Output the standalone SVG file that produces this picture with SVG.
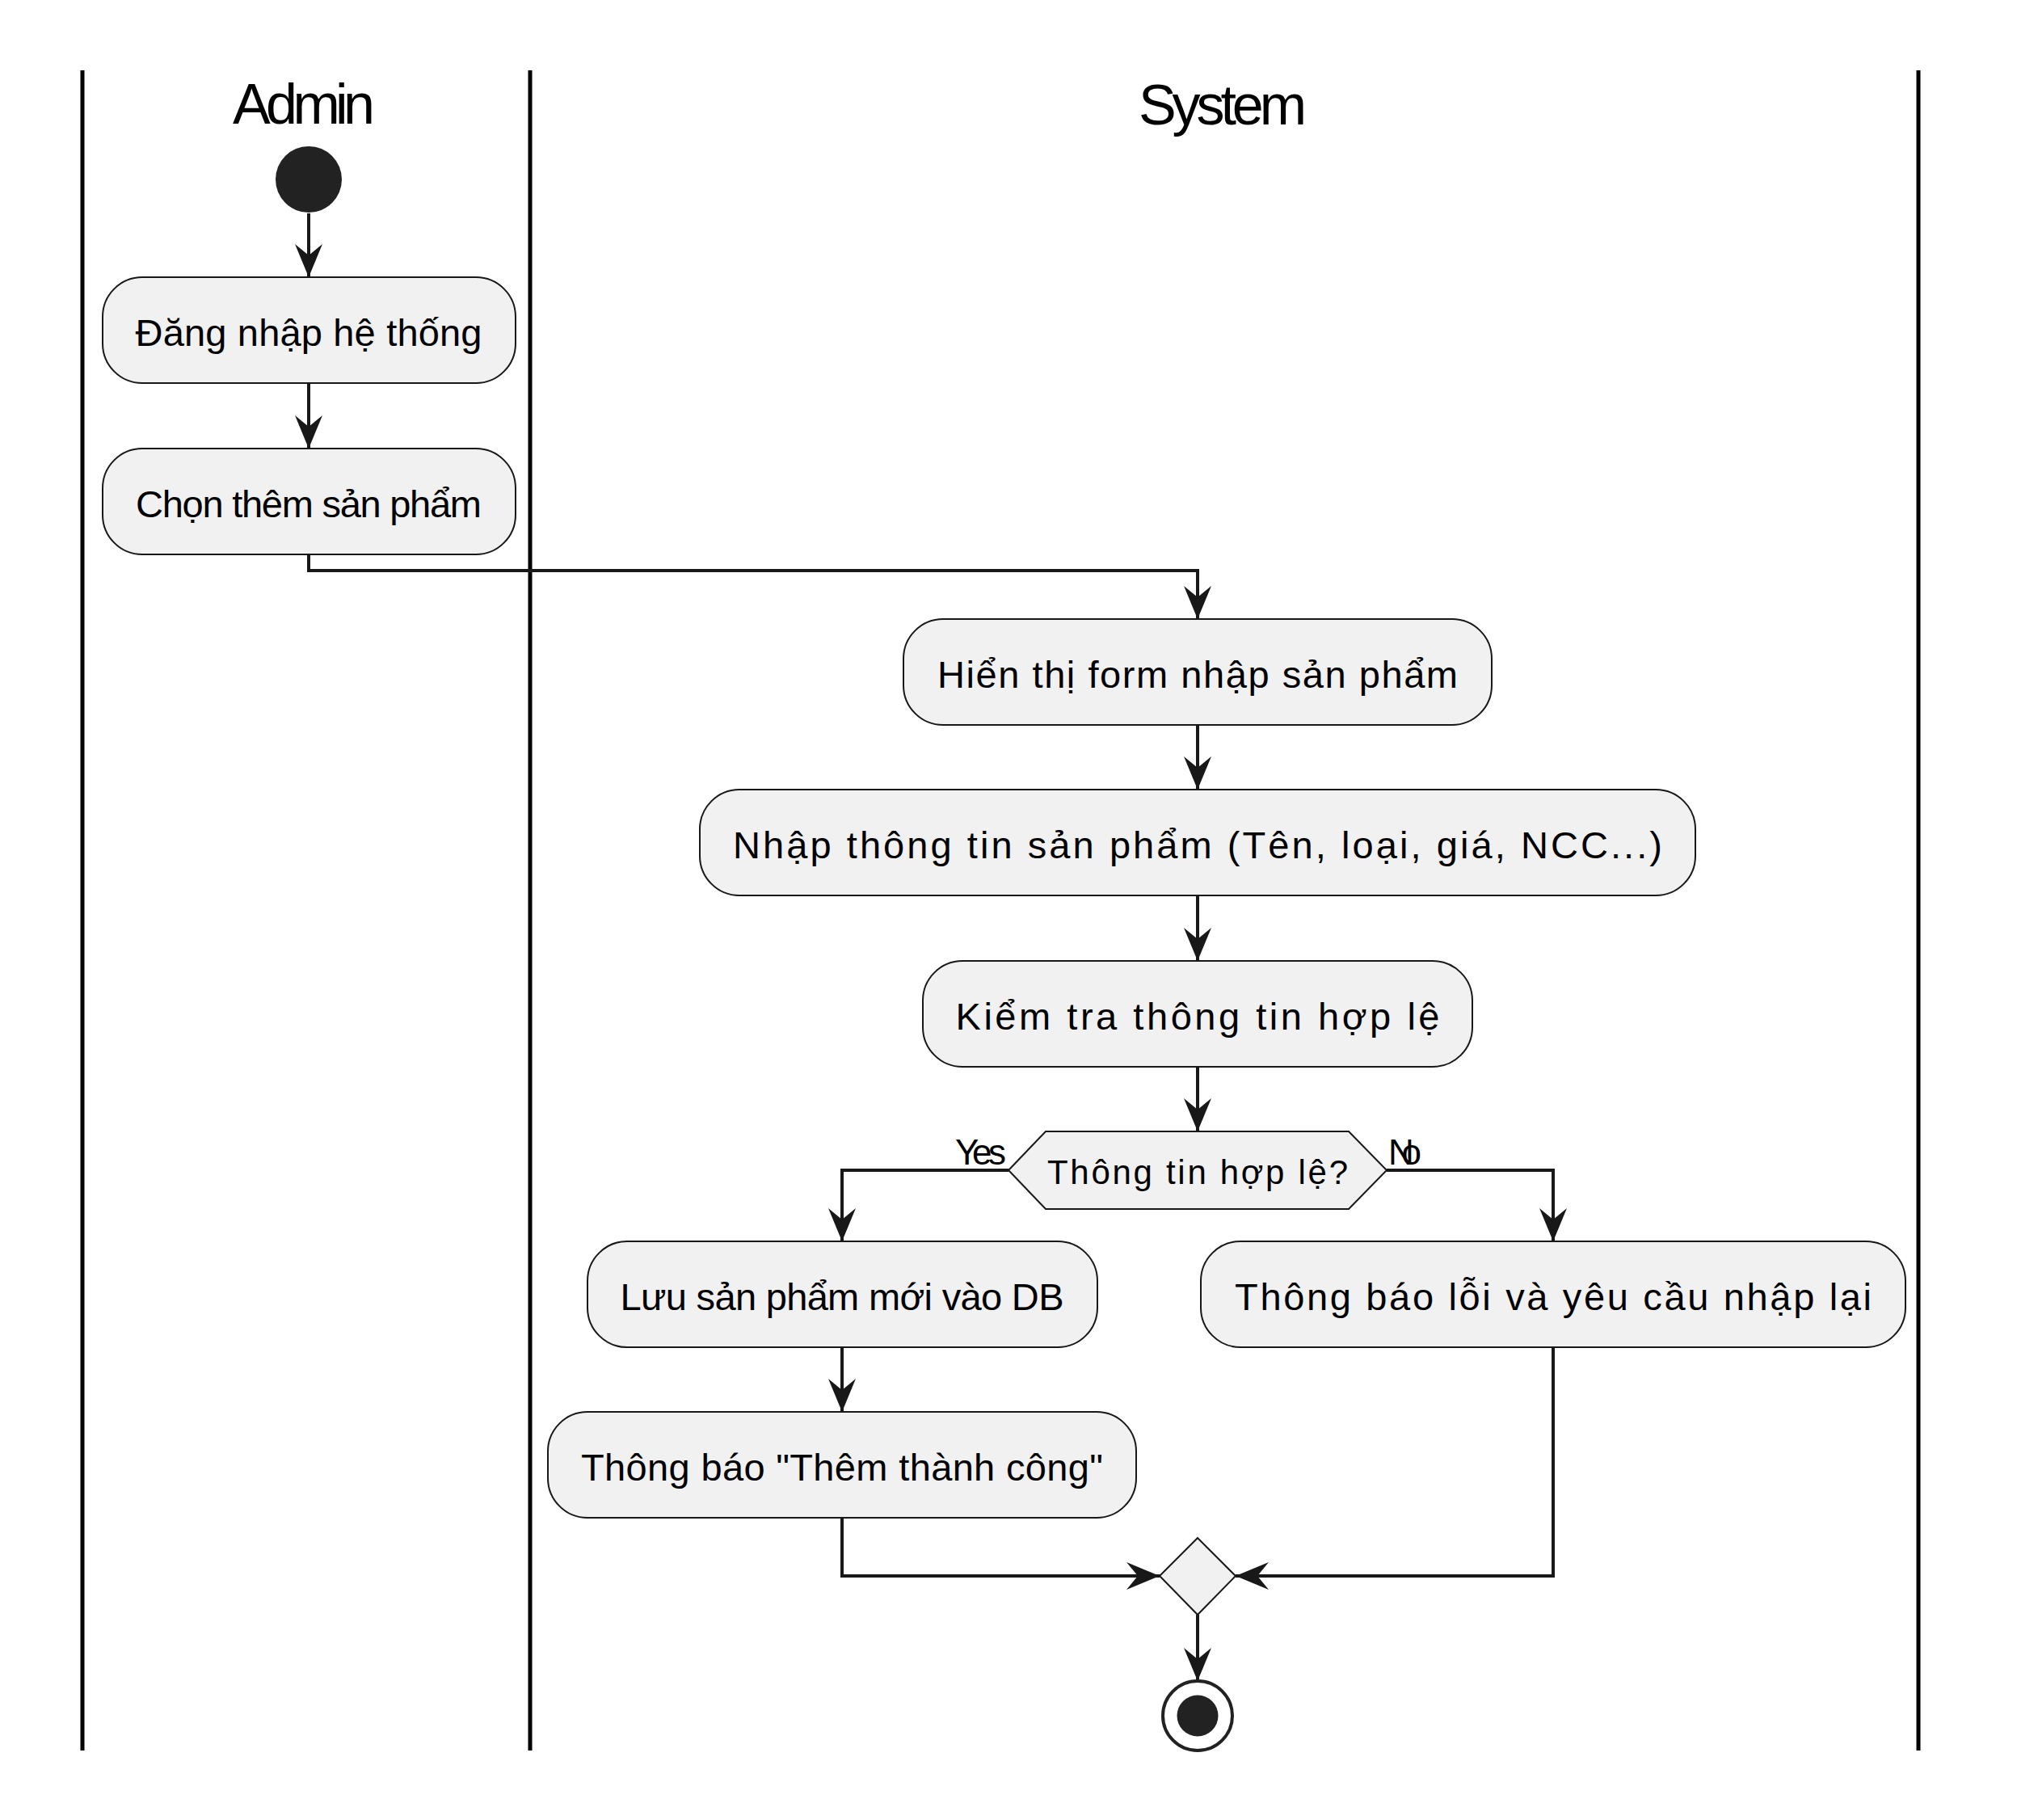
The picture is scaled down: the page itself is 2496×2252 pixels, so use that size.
<svg xmlns="http://www.w3.org/2000/svg" width="2496" height="2252" viewBox="0 0 2496 2252">
<style>
  .lane { stroke: #000000; stroke-width: 5; fill: none; }
  .title { font-family: "Liberation Sans", Arial, sans-serif; font-size: 70px; fill: #000000; text-anchor: middle; }
  .box { fill: #F1F1F1; stroke: #181818; stroke-width: 2; }
  .txt { font-family: "Liberation Sans", Arial, sans-serif; font-size: 47px; fill: #000000; text-anchor: middle; }
  .dtxt { font-family: "Liberation Sans", Arial, sans-serif; font-size: 42px; fill: #000000; text-anchor: middle; }
  .lbl { font-family: "Liberation Sans", Arial, sans-serif; font-size: 44px; fill: #000000; }
  .edge { stroke: #181818; stroke-width: 4; fill: none; marker-end: url(#ah); }
  .edgeplain { stroke: #181818; stroke-width: 4; fill: none; }
</style>
<defs>
  <marker id="ah" markerUnits="userSpaceOnUse" markerWidth="46" markerHeight="40" viewBox="-44 -20 46 40" refX="0" refY="0" orient="auto">
    <path d="M0,0 L-41,-17 L-27,0 L-41,17 Z" fill="#181818"/>
  </marker>
</defs>
<rect x="0" y="0" width="2496" height="2252" fill="#FFFFFF"/>

<g id="lanes">
  <line class="lane" x1="102" y1="87" x2="102" y2="2166"/>
  <line class="lane" x1="656" y1="87" x2="656" y2="2166"/>
  <line class="lane" x1="2374" y1="87" x2="2374" y2="2166"/>
  <text class="title" x="376" y="153" textLength="176" lengthAdjust="spacing">Admin</text>
  <text class="title" x="1513" y="154" textLength="208" lengthAdjust="spacing">System</text>
</g>

<g id="connectors">
  <path class="edge" d="M382,264 V343"/>
  <path class="edge" d="M382,474 V555"/>
  <path class="edge" d="M382,686 V706 H1482 V766"/>
  <path class="edge" d="M1482,897 V977"/>
  <path class="edge" d="M1482,1108 V1189"/>
  <path class="edge" d="M1482,1320 V1400"/>
  <path class="edge" d="M1248,1448 H1042 V1536"/>
  <path class="edge" d="M1716,1448 H1922 V1536"/>
  <path class="edge" d="M1042,1667 V1747"/>
  <path class="edge" d="M1042,1878 V1950 H1435"/>
  <path class="edge" d="M1922,1667 V1950 H1529"/>
  <path class="edge" d="M1482,1998 V2080"/>
  <text class="lbl" x="1182" y="1441" textLength="63" lengthAdjust="spacing">Yes</text>
  <text class="lbl" x="1718" y="1441" textLength="41" lengthAdjust="spacing">No</text>
</g>

<g id="start">
  <circle cx="382" cy="222" r="41" fill="#222222"/>
</g>

<g id="a1">
  <rect class="box" x="127" y="343" width="511" height="131" rx="49" ry="49"/>
  <text class="txt" x="382" y="428" textLength="429" lengthAdjust="spacing">Đăng nhập hệ thống</text>
</g>

<g id="a2">
  <rect class="box" x="127" y="555" width="511" height="131" rx="49" ry="49"/>
  <text class="txt" x="382" y="640" textLength="428" lengthAdjust="spacing">Chọn thêm sản phẩm</text>
</g>

<g id="a3">
  <rect class="box" x="1118" y="766" width="728" height="131" rx="49" ry="49"/>
  <text class="txt" x="1482" y="851" textLength="644" lengthAdjust="spacing">Hiển thị form nhập sản phẩm</text>
</g>

<g id="a4">
  <rect class="box" x="866" y="977" width="1232" height="131" rx="49" ry="49"/>
  <text class="txt" x="1482" y="1062" textLength="1150" lengthAdjust="spacing">Nhập thông tin sản phẩm (Tên, loại, giá, NCC...)</text>
</g>

<g id="a5">
  <rect class="box" x="1142" y="1189" width="680" height="131" rx="49" ry="49"/>
  <text class="txt" x="1482" y="1274" textLength="599" lengthAdjust="spacing">Kiểm tra thông tin hợp lệ</text>
</g>

<g id="decision">
  <polygon class="box" points="1248,1448 1294,1400 1669,1400 1716,1448 1669,1496 1294,1496"/>
  <text class="dtxt" x="1482" y="1465" textLength="372" lengthAdjust="spacing">Thông tin hợp lệ?</text>
</g>

<g id="a6">
  <rect class="box" x="727" y="1536" width="631" height="131" rx="49" ry="49"/>
  <text class="txt" x="1042" y="1621" textLength="549" lengthAdjust="spacing">Lưu sản phẩm mới vào DB</text>
</g>

<g id="a7">
  <rect class="box" x="1486" y="1536" width="872" height="131" rx="49" ry="49"/>
  <text class="txt" x="1922" y="1621" textLength="788" lengthAdjust="spacing">Thông báo lỗi và yêu cầu nhập lại</text>
</g>

<g id="a8">
  <rect class="box" x="678" y="1747" width="728" height="131" rx="49" ry="49"/>
  <text class="txt" x="1042" y="1832" textLength="646" lengthAdjust="spacing">Thông báo "Thêm thành công"</text>
</g>

<g id="merge">
  <polygon class="box" points="1482,1903 1529,1950 1482,1998 1435,1950"/>
</g>

<g id="end">
  <circle cx="1482" cy="2123" r="43" fill="#FFFFFF" stroke="#222222" stroke-width="4"/>
  <circle cx="1482" cy="2123" r="25.5" fill="#222222"/>
</g>
</svg>
